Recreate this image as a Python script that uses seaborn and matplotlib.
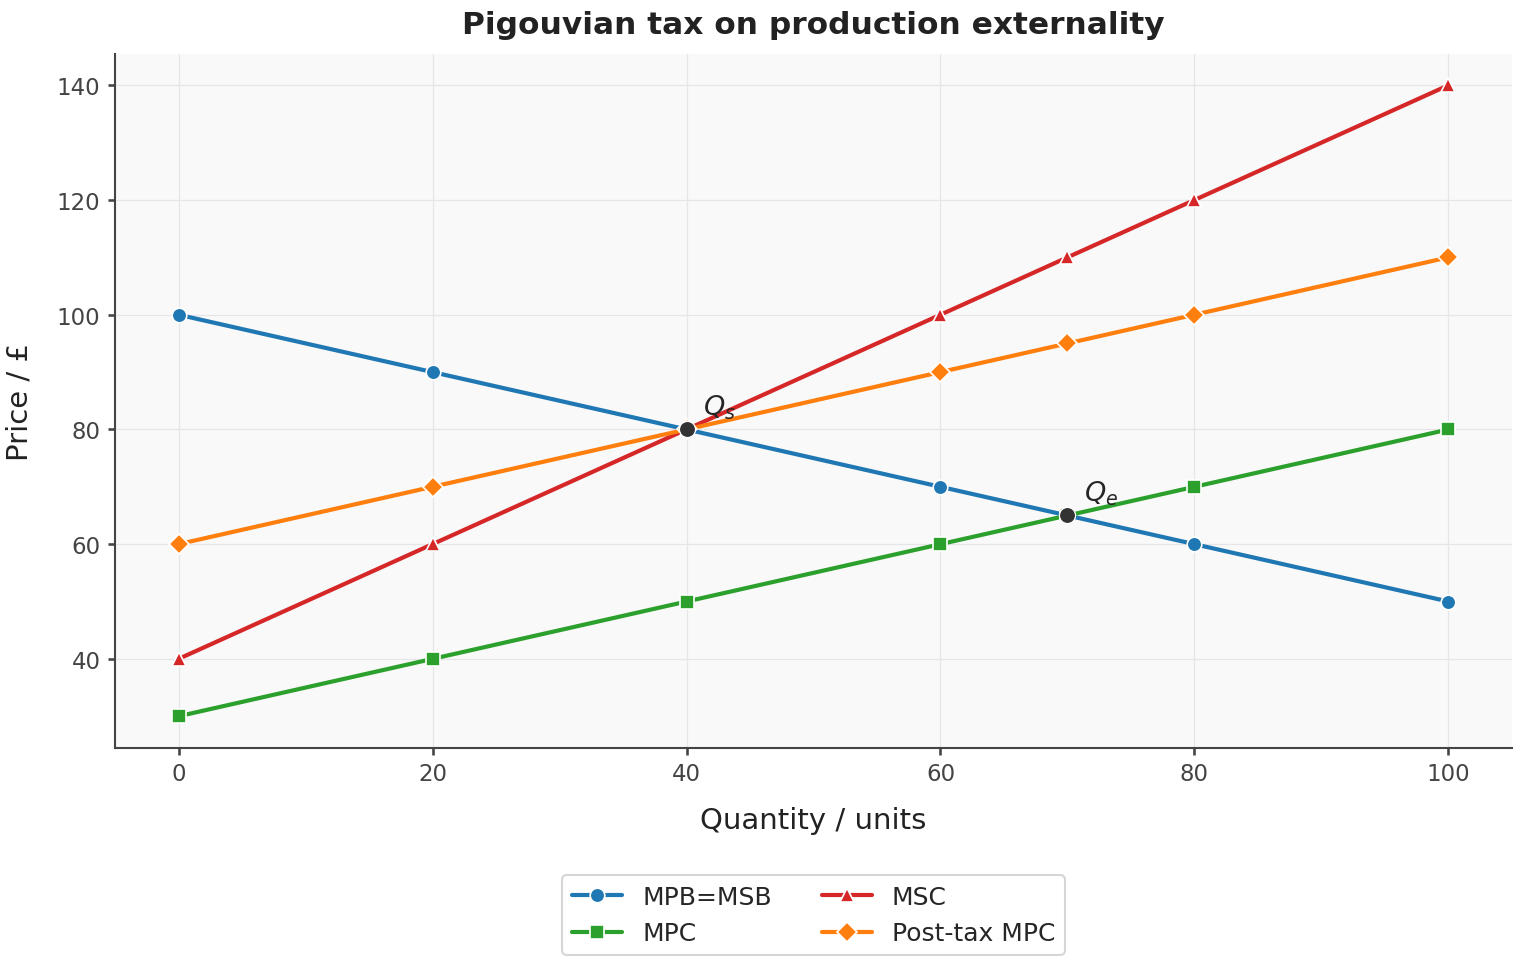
import numpy as np
import pandas as pd
import matplotlib.pyplot as plt
import seaborn as sns

# values
quantity = [0, 20, 40, 60, 70, 80, 100]
mpb = [100, 90, 80, 70, 65, 60, 50]
mpc = [30, 40, 50, 60, 65, 70, 80]
msc = [40, 60, 80, 100, 110, 120, 140]
post_tax = [60, 70, 80, 90, 95, 100, 110]

curve_names = ["MPB=MSB", "MPC", "MSC", "Post-tax MPC"]
curve_colors = ["#1f77b4", "#2ca02c", "#d62728", "#ff7f0e"]
curve_markers = ["o", "s", "^", "D"]

eq_labels = ["Q_s", "Q_e"]
eq_x = [40, 70]
eq_y = [80, 65]

df = pd.DataFrame({
    "Quantity": quantity * 4,
    "Price": mpb + mpc + msc + post_tax,
    "Curve": np.repeat(curve_names, len(quantity)),
})

sns.set_theme(style="ticks")
plt.rcParams["font.family"] = ["DejaVu Sans"]

fig, ax = plt.subplots(figsize=(15.2 / 1.5, 9.6 / 1.5), dpi=150)
fig.subplots_adjust(left=0.0757, right=0.9947, top=0.943, bottom=0.22)
ax.set_facecolor("#f9f9f9")

sns.lineplot(data=df, x="Quantity", y="Price", hue="Curve", style="Curve",
             hue_order=curve_names, style_order=curve_names,
             palette=curve_colors, markers=curve_markers, dashes=False,
             linewidth=2, markersize=7, markeredgecolor="white",
             markeredgewidth=0.8, ax=ax)

# equilibrium points
sns.scatterplot(x=eq_x, y=eq_y, color="#333333", s=60, edgecolor="white",
                linewidth=0.6, zorder=5, ax=ax, legend=False)
for lab, x, y in zip(eq_labels, eq_x, eq_y):
    ax.annotate(f"${lab}$", (x, y), xytext=(8, 7), textcoords="offset points",
                fontsize=13)

ax.grid(True, color="#e6e6ea", linewidth=0.6)
ax.set_axisbelow(True)
sns.despine(ax=ax)
for s in ["left", "bottom"]:
    ax.spines[s].set_color("#444444")
    ax.spines[s].set_linewidth(1)

ax.set_xticks([0, 20, 40, 60, 80, 100])
ax.set_yticks([40, 60, 80, 100, 120, 140])
ax.set_ylim(24.5, 145.5)
ax.set_xlim(-5, 105)
ax.tick_params(labelsize=11, colors="#444444", length=3.5)
for t in ax.get_xticklabels() + ax.get_yticklabels():
    t.set_color("#444444")

ax.set_title("Pigouvian tax on production externality", fontsize=15,
             fontweight="bold", pad=10, color="#222222")
ax.set_xlabel("Quantity / units", fontsize=14, labelpad=10, color="#222222")
ax.set_ylabel("Price / £", fontsize=14, labelpad=11, color="#222222")

ax.legend(loc="upper center", bbox_to_anchor=(0.5, -0.165), ncol=2,
          fontsize=12, frameon=True, handlelength=2.0, columnspacing=2.0)

fig.savefig("out.png", dpi=150)
